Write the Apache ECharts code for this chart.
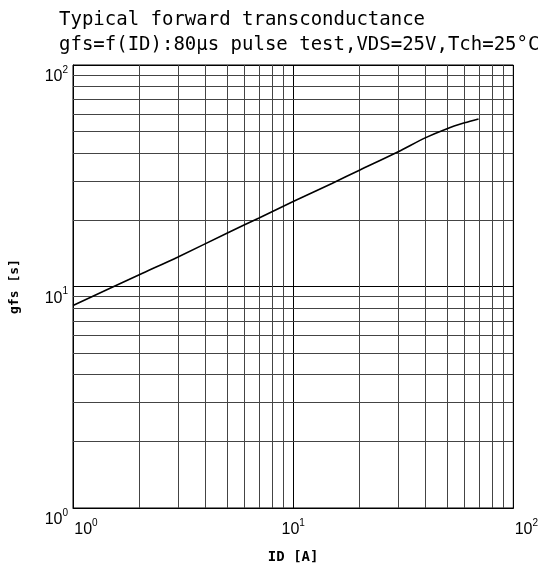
<!DOCTYPE html>
<html>
<head>
<meta charset="utf-8">
<script src="https://cdn.jsdelivr.net/npm/echarts@6/dist/echarts.min.js"></script>
<style>html,body{margin:0;padding:0;background:#fff;}#c{width:541px;height:569px;}</style>
</head>
<body>
<div id="c"></div>
<script>
const idValues  = [1.0, 2.0, 3.0, 5.0, 7.0, 10.0, 15.0, 20.0, 30.0, 40.0, 50.0, 60.0, 69.5];
const gfsValues = [8.2, 11.3, 13.6, 17.4, 20.4, 24.2, 29.2, 33.5, 40.6, 47.0, 51.6, 54.8, 57.1];
const tickValues = [1, 10, 100];
const tickExps = ['0', '1', '2'];
const xMinor = [2, 3, 4, 5, 6, 7, 8, 9, 20, 30, 40, 50, 60, 70, 80, 90];
const yMinor = [2, 3, 4, 5, 6, 7, 8, 9, 20, 30, 40, 50, 60, 70, 80, 90];
const titleLine1 = 'Typical forward transconductance';
const titleLine2 = 'gfs=f(ID):80μs pulse test,VDS=25V,Tch=25°C';
const xName = 'ID [A]';
const yName = 'gfs [s]';

const chart = echarts.init(document.getElementById('c'), null, {renderer: 'canvas'});
const expOf = v => tickExps[tickValues.findIndex(t => Math.abs(t - v) / t < 1e-6)];
const rich = {
  b: {fontSize: 16, fontFamily: 'Liberation Sans', color: '#000', lineHeight: 20, verticalAlign: 'bottom'},
  l: {fontSize: 16, fontFamily: 'Liberation Sans', color: '#000', lineHeight: 20, verticalAlign: 'bottom', padding: [0, 0, 0, 26]},
  r: {fontSize: 16, fontFamily: 'Liberation Sans', color: '#000', lineHeight: 20, verticalAlign: 'bottom', padding: [0, 0, 0, 26]},
  s: {fontSize: 10, fontFamily: 'Liberation Sans', color: '#000', lineHeight: 20, verticalAlign: 'top'}
};
const option = {
  backgroundColor: '#fff',
  animation: false,
  title: [
    {text: titleLine1, left: 54, top: 6, textStyle: {fontFamily: 'DejaVu Sans Mono', fontSize: 19, fontWeight: 'normal', color: '#000'}},
    {text: titleLine2, left: 54, top: 31, textStyle: {fontFamily: 'DejaVu Sans Mono', fontSize: 19, fontWeight: 'normal', color: '#000'}}
  ],
  grid: {left: 72, right: 25, top: 65, bottom: 60, show: true, borderColor: '#000', borderWidth: 1, backgroundColor: 'transparent'},
  xAxis: {
    type: 'log', logBase: 10, min: 1, max: 100,
    name: xName, nameLocation: 'middle', nameGap: 42,
    nameTextStyle: {fontFamily: 'DejaVu Sans Mono', fontSize: 14, fontWeight: 'bold', color: '#000'},
    axisLine: {show: true, lineStyle: {color: '#000', width: 1}},
    axisTick: {show: false},
    minorTick: {show: false},
    splitLine: {show: true, lineStyle: {color: '#000', width: 1}},
    axisLabel: {
      margin: 10, rich: rich,
      formatter: v => {
        const e = expOf(v);
        if (e === tickExps[0]) return '{l|10}{s|' + e + '}';
        if (e === tickExps[tickExps.length - 1]) return '{r|10}{s|' + e + '}';
        return '{b|10}{s|' + e + '}';
      }
    }
  },
  yAxis: {
    type: 'log', logBase: 10, min: 1, max: 100,
    name: yName, nameLocation: 'middle', nameGap: 52,
    nameTextStyle: {fontFamily: 'DejaVu Sans Mono', fontSize: 13, fontWeight: 'bold', color: '#000'},
    axisLine: {show: true, lineStyle: {color: '#000', width: 1}},
    axisTick: {show: false},
    minorTick: {show: false},
    splitLine: {show: true, lineStyle: {color: '#000', width: 1}},
    axisLabel: {
      margin: 5, rich: rich, padding: [20, 0, 0, 0],
      formatter: v => '{b|10}{s|' + expOf(v) + '}'
    }
  },
  series: [
    {
      type: 'line', data: [], silent: true,
      markLine: {
        silent: true, symbol: 'none', animation: false,
        label: {show: false},
        lineStyle: {color: '#444', type: 'solid', width: 1},
        emphasis: {disabled: true},
        data: xMinor.map(v => ({xAxis: v})).concat(yMinor.map(v => ({yAxis: v})))
      }
    },
    {
      type: 'line', smooth: 0.3, symbol: 'none',
      lineStyle: {color: '#000', width: 1.6},
      data: idValues.map((x, i) => [x, gfsValues[i]]),
      z: 5
    }
  ]
};
chart.setOption(option);
</script>
</body>
</html>
